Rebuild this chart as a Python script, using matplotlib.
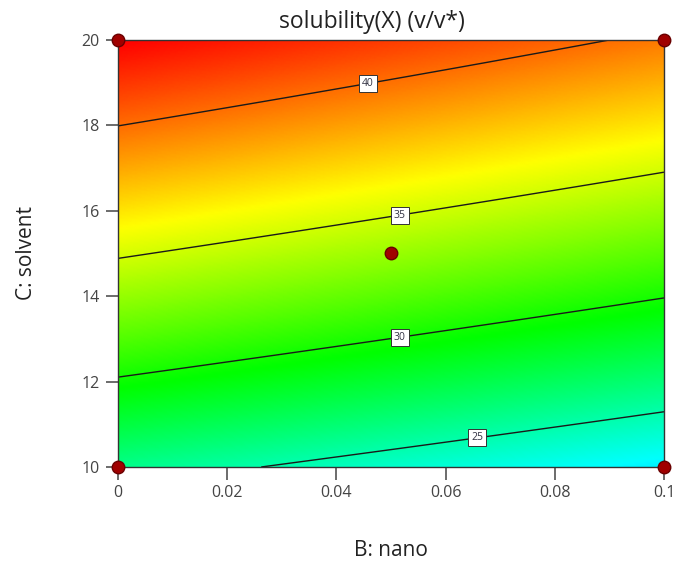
import numpy as np
import matplotlib
matplotlib.use("Agg")
import matplotlib.pyplot as plt
from matplotlib.colors import ListedColormap, hsv_to_rgb

# Response-surface model in coded units (b, c in [-1, 1])
intercept = 33.54
coef_b = -1.683
coef_c = 8.569
coef_bb = -0.027
coef_cc = -0.792
coef_bc = 0.057

nano_range = [0.0, 0.1]
solvent_range = [10.0, 20.0]
contour_levels = [25, 30, 35, 40]
label_pos = [(0.0657, 10.76), (0.0516, 13.05), (0.0516, 15.9), (0.0458, 19.0)]

# design points
design_nano = [0.0, 0.0, 0.1, 0.1, 0.05]
design_solvent = [10.0, 20.0, 10.0, 20.0, 15.0]

x_ticks = [0, 0.02, 0.04, 0.06, 0.08, 0.1]
x_ticklabels = ["0", "0.02", "0.04", "0.06", "0.08", "0.1"]
y_ticks = [10, 12, 14, 16, 18, 20]


def model(x, y):
    b = (x - 0.05) / 0.05
    c = (y - 15.0) / 5.0
    return (intercept + coef_b * b + coef_c * c + coef_bb * b * b
            + coef_cc * c * c + coef_bc * b * c)


xg = np.linspace(nano_range[0], nano_range[1], 300)
yg = np.linspace(solvent_range[0], solvent_range[1], 300)
X, Y = np.meshgrid(xg, yg)
Z = model(X, Y)

# red (high) -> yellow -> green -> cyan (low), plain hue sweep
hues = np.linspace(0.51, 0.0, 256)
cmap = ListedColormap(hsv_to_rgb(np.column_stack([hues, np.ones(256), np.ones(256)])))

plt.rcParams["font.family"] = ["Open Sans", "DejaVu Sans"]
fig = plt.figure(figsize=(6.73, 5.61), dpi=100)
ax = fig.add_axes([0.1753, 0.1676, 0.8113, 0.7611])

ax.pcolormesh(X, Y, Z, cmap=cmap, shading="gouraud", vmin=Z.min(), vmax=Z.max())
cs = ax.contour(X, Y, Z, levels=contour_levels, colors="#1a1a1a", linewidths=1.0)
labels = ax.clabel(cs, fmt="%d", inline=False, fontsize=7.5, manual=label_pos)
for t in labels:
    t.set_rotation(0)
    t.set_color("#333344")
    t.set_bbox(dict(boxstyle="square,pad=0.3", facecolor="white",
                    edgecolor="#333333", linewidth=0.7))

ax.plot(design_nano, design_solvent, "o", color="#a00000", markeredgecolor="#6a0000",
        markersize=9, clip_on=False, zorder=5)

ax.set_xlim(nano_range)
ax.set_ylim(solvent_range)
ax.set_xticks(x_ticks)
ax.set_xticklabels(x_ticklabels)
ax.set_yticks(y_ticks)
ax.tick_params(direction="out", length=9, width=1.1, color="#444444",
               labelcolor="#444444", labelsize=11.5, pad=4)
for s in ax.spines.values():
    s.set_color("#333333")
    s.set_linewidth(1.0)

fig.text(0.553, 0.961, "solubility(X) (v/v*)", fontsize=16.5, color="#222222",
         ha="center", va="center")
ax.set_xlabel("B: nano", fontsize=15, color="#222222", labelpad=28)
ax.set_ylabel("C: solvent", fontsize=15, color="#222222", labelpad=32)

fig.savefig("out.png", dpi=100)
